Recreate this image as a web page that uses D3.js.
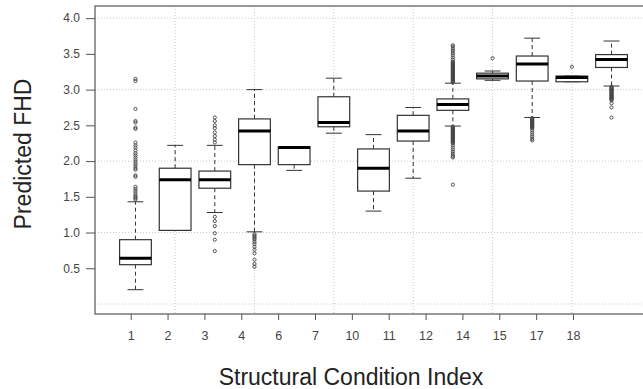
<!DOCTYPE html>
<html>
<head>
<meta charset="utf-8">
<script src="https://cdn.jsdelivr.net/npm/d3@7"></script>
<style>
  body { margin: 0; background: #fff; }
  svg { display: block; font-family: "Liberation Sans", Arial, sans-serif; }
</style>
</head>
<body>
<svg id="chart" width="643" height="389"></svg>
<script>
// categories of the structural condition index
var categories = ["1", "2", "3", "4", "6", "7", "10", "11", "12", "14", "15", "17", "18"];

// box statistics
var whiskLo = [0.20, 1.03, 1.28, 1.01, 1.87, 2.39, 1.30, 1.76, 2.49, 3.13, 2.61, 3.11, 3.05];
var q1      = [0.55, 1.03, 1.62, 1.95, 1.95, 2.48, 1.58, 2.28, 2.71, 3.15, 3.12, 3.11, 3.31];
var median  = [0.64, 1.74, 1.74, 2.42, 2.19, 2.54, 1.90, 2.42, 2.79, 3.19, 3.36, 3.17, 3.42];
var q3      = [0.90, 1.90, 1.86, 2.59, 2.20, 2.90, 2.17, 2.64, 2.87, 3.23, 3.47, 3.19, 3.49];
var whiskHi = [1.43, 2.22, 2.22, 3.00, 2.20, 3.16, 2.37, 2.75, 3.09, 3.26, 3.72, 3.19, 3.68];

var outliers = [
  [1.46, 1.48, 1.50, 1.52, 1.55, 1.58, 1.61, 1.64, 1.78, 1.80, 1.88, 1.90, 1.93, 1.96, 1.99, 2.02,
   2.05, 2.08, 2.11, 2.15, 2.19, 2.22, 2.26, 2.45, 2.47, 2.54, 2.56, 2.73, 3.12, 3.15],
  [],
  [2.26, 2.30, 2.35, 2.40, 2.46, 2.50, 2.56, 2.61, 1.22, 1.16, 1.09, 0.99, 0.90, 0.74],
  [0.98, 0.96, 0.94, 0.92, 0.90, 0.87, 0.84, 0.80, 0.76, 0.71, 0.62, 0.56, 0.52],
  [],
  [],
  [],
  [],
  [3.10, 3.11, 3.12, 3.13, 3.14, 3.15, 3.16, 3.17, 3.18, 3.19, 3.20, 3.21, 3.22, 3.23, 3.24, 3.25,
   3.26, 3.27, 3.28, 3.29, 3.30, 3.31, 3.32, 3.33, 3.34, 3.35, 3.36, 3.37, 3.38, 3.39, 3.42, 3.45,
   3.48, 3.51, 3.54, 3.57, 3.60, 3.62,
   2.48, 2.47, 2.46, 2.45, 2.44, 2.43, 2.42, 2.41, 2.40, 2.39, 2.38, 2.37, 2.36, 2.35, 2.34, 2.33,
   2.32, 2.31, 2.30, 2.29, 2.28, 2.27, 2.26, 2.25, 2.22, 2.19, 2.16, 2.13, 2.10, 2.07, 2.05, 1.67],
  [3.44],
  [2.60, 2.59, 2.58, 2.57, 2.56, 2.55, 2.54, 2.53, 2.52, 2.51, 2.50, 2.49, 2.48, 2.47, 2.46, 2.43,
   2.40, 2.37, 2.34, 2.31, 2.29],
  [3.32],
  [3.04, 3.03, 3.02, 3.01, 3.00, 2.99, 2.98, 2.97, 2.96, 2.95, 2.94, 2.93, 2.92, 2.91, 2.90, 2.89,
   2.88, 2.87, 2.86, 2.85, 2.81, 2.75, 2.61]
];

var yTicks = [0.5, 1.0, 1.5, 2.0, 2.5, 3.0, 3.5, 4.0];
var yGrid = [0, 1, 2, 3, 4];
var xGrid = [2, 4, 6, 8, 10, 12]; // box positions with a vertical grid line

var svg = d3.select("#chart");

var plotLeft = 95, plotTop = 6, plotBottom = 314, plotRight = 652;

// box positions 1..13
var x = d3.scaleLinear().domain([-0.02, 14.02]).range([plotLeft, plotRight]);
// tick labels sit on their own, tighter spacing in the original
var xt = d3.scalePoint().domain(categories).range([130.7, 573]);
var y = d3.scaleLinear().domain([-0.14, 4.17]).range([plotBottom, plotTop]);

var boxW = x(0.8) - x(0);
var capW = boxW / 2;

// grid
svg.append("g").selectAll("line").data(yGrid).enter().append("line")
  .attr("x1", plotLeft).attr("x2", plotRight)
  .attr("y1", d => y(d)).attr("y2", d => y(d))
  .attr("stroke", "#c8c8c8").attr("stroke-dasharray", "1,2");
svg.append("g").selectAll("line").data(xGrid).enter().append("line")
  .attr("x1", d => x(d)).attr("x2", d => x(d))
  .attr("y1", plotTop).attr("y2", plotBottom)
  .attr("stroke", "#c8c8c8").attr("stroke-dasharray", "1,2");

// frame
svg.append("rect")
  .attr("x", plotLeft).attr("y", plotTop)
  .attr("width", plotRight - plotLeft).attr("height", plotBottom - plotTop)
  .attr("fill", "none").attr("stroke", "#555").attr("stroke-width", 1.2);

// boxes
var boxes = svg.append("g").selectAll("g").data(categories).enter().append("g");

boxes.append("line")
  .attr("x1", (d, i) => x(i + 1)).attr("x2", (d, i) => x(i + 1))
  .attr("y1", (d, i) => y(q3[i])).attr("y2", (d, i) => y(whiskHi[i]))
  .attr("stroke", "#333").attr("stroke-dasharray", "4,3");
boxes.append("line")
  .attr("x1", (d, i) => x(i + 1)).attr("x2", (d, i) => x(i + 1))
  .attr("y1", (d, i) => y(q1[i])).attr("y2", (d, i) => y(whiskLo[i]))
  .attr("stroke", "#333").attr("stroke-dasharray", "4,3");
boxes.append("line")
  .attr("x1", (d, i) => x(i + 1) - capW / 2).attr("x2", (d, i) => x(i + 1) + capW / 2)
  .attr("y1", (d, i) => y(whiskHi[i])).attr("y2", (d, i) => y(whiskHi[i]))
  .attr("stroke", "#333");
boxes.append("line")
  .attr("x1", (d, i) => x(i + 1) - capW / 2).attr("x2", (d, i) => x(i + 1) + capW / 2)
  .attr("y1", (d, i) => y(whiskLo[i])).attr("y2", (d, i) => y(whiskLo[i]))
  .attr("stroke", "#333");
boxes.append("rect")
  .attr("x", (d, i) => x(i + 1) - boxW / 2)
  .attr("y", (d, i) => y(q3[i]))
  .attr("width", boxW)
  .attr("height", (d, i) => y(q1[i]) - y(q3[i]))
  .attr("fill", "#fff").attr("stroke", "#333").attr("stroke-width", 1.2);
boxes.append("line")
  .attr("x1", (d, i) => x(i + 1) - boxW / 2).attr("x2", (d, i) => x(i + 1) + boxW / 2)
  .attr("y1", (d, i) => y(median[i])).attr("y2", (d, i) => y(median[i]))
  .attr("stroke", "#000").attr("stroke-width", 3);

boxes.selectAll("circle")
  .data((d, i) => outliers[i].map(v => ({ i: i, v: v })))
  .enter().append("circle")
  .attr("cx", d => x(d.i + 1))
  .attr("cy", d => y(d.v))
  .attr("r", 1.6)
  .attr("fill", "none").attr("stroke", "#444").attr("stroke-width", 0.9);

// y axis
var ya = svg.append("g").attr("transform", "translate(" + plotLeft + ",0)")
  .call(d3.axisLeft(y).tickValues(yTicks).tickFormat(d3.format(".1f")).tickSize(9).tickPadding(6));
ya.select(".domain").remove();
ya.selectAll("line").attr("stroke", "#555");
ya.selectAll("text").attr("fill", "#444").attr("font-size", "12px")
  .attr("font-family", "Liberation Sans, Arial, sans-serif");

// x axis
var xa = svg.append("g").attr("transform", "translate(0," + plotBottom + ")")
  .call(d3.axisBottom(xt).tickSize(6).tickPadding(11));
xa.select(".domain").remove();
xa.selectAll("line").attr("stroke", "#555");
xa.selectAll("text").attr("fill", "#444").attr("font-size", "12.5px")
  .attr("font-family", "Liberation Sans, Arial, sans-serif");

// titles
svg.append("text")
  .attr("x", 351).attr("y", 385)
  .attr("text-anchor", "middle")
  .attr("font-size", "23px").attr("fill", "#222")
  .text("Structural Condition Index");
svg.append("text")
  .attr("transform", "translate(31,154) rotate(-90)")
  .attr("text-anchor", "middle")
  .attr("font-size", "23px").attr("fill", "#222")
  .text("Predicted FHD");
</script>
</body>
</html>
